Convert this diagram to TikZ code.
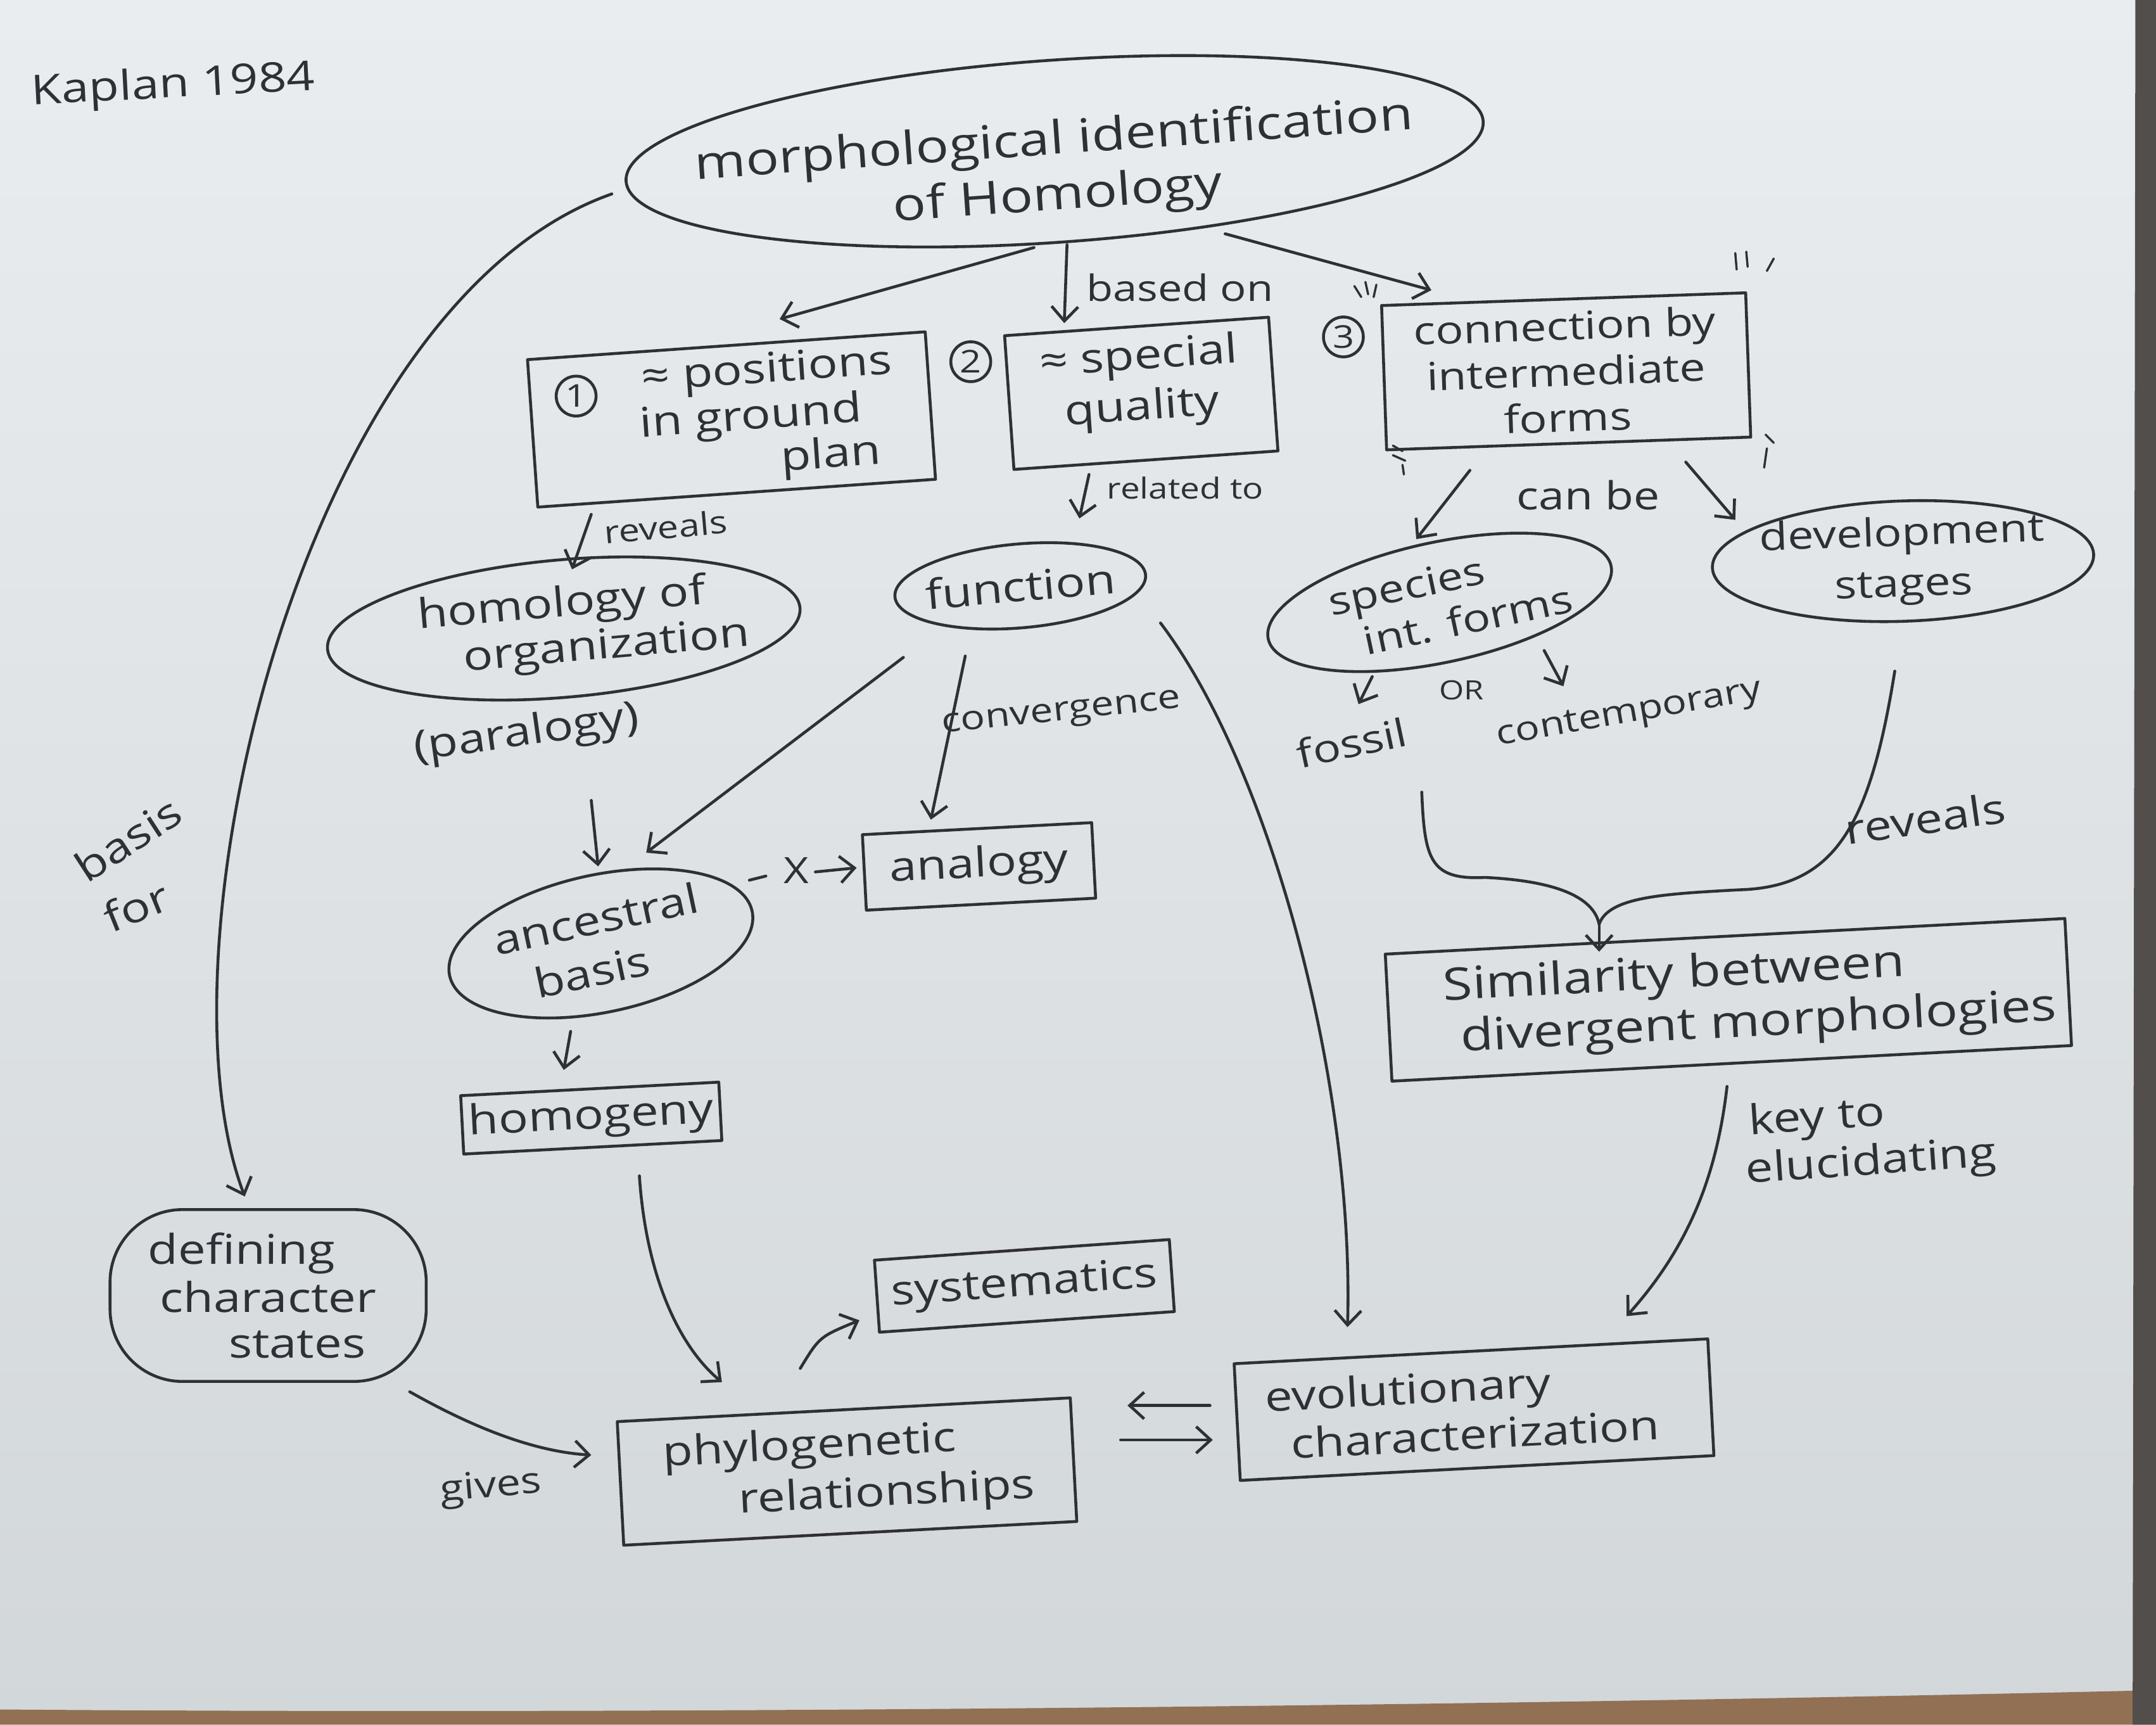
\documentclass[tikz,border=0pt]{standalone}
\usepackage{fontspec}
\setmainfont{Open Sans}[FakeStretch=1.2]
\usetikzlibrary{arrows.meta,shapes.geometric,calc}

\definecolor{ink}{RGB}{46,48,54}
\definecolor{paperT}{RGB}{234,237,239}
\definecolor{paperB}{RGB}{210,215,218}
\definecolor{tablewood}{RGB}{146,112,84}
\definecolor{edgedark}{RGB}{82,78,76}

% font size with a given line distance
\newcommand\sz[1]{\fontsize{#1}{#1}\selectfont\lineskiplimit=-100pt\relax}
% shift one line sideways without changing its width
\newcommand\lnshift[2]{\hspace*{#1}#2\hspace*{-#1}}
% add depth below the last line (moves the text block up)
\newcommand\txtup[1]{\rule[-#1]{0pt}{0pt}}
% add height above the first line (moves the text block down)
\newcommand\txtdown[1]{\rule{0pt}{#1}}

\tikzset{
  pen/.style={draw=ink, line width=1.2pt, line cap=round, line join=round},
  txt/.style={text=ink, inner sep=0pt, align=center},
  box/.style={pen, txt, rectangle, font=\sz{17}},
  % ovals keep the size they are given, whatever the text
  oval/.style={pen, txt, ellipse, inner xsep=-3cm, inner ysep=-1.5cm, font=\sz{17}},
  blob/.style={pen, txt, rectangle, rounded corners=30pt, font=\sz{17}},
  num/.style={pen, txt, circle, minimum size=0.58cm, font=\sz{13}},
  lbl/.style={txt, font=\sz{15}},
  tick/.style={draw=ink, line width=0.9pt, line cap=round},
  arr/.style={pen, -{Straight Barb[length=6pt,width=11pt]}},
}

\begin{document}
\begin{tikzpicture}[x=0.02cm,y=-0.02cm]
\useasboundingbox (0,0) rectangle (1568,1254);

% sheet of paper on the table
\shade[top color=paperT, bottom color=paperB] (0,0) rectangle (1568,1254);
\fill[tablewood] (0,1243) .. controls (500,1247) and (1100,1240) .. (1568,1229)
  -- (1568,1254) -- (0,1254) -- cycle;
\fill[edgedark] (1553,0) -- (1568,0) -- (1568,1254) -- (1551,1254) -- cycle;

% ---------- nodes ----------
\node[lbl, font=\sz{17}, rotate=3] (kap) at (126,63) {Kaplan 1984};

\node[oval, font=\sz{19}, rotate=4, minimum width=12.5cm, minimum height=2.65cm]
  (top) at (767,110) {\txtdown{30pt}morphological identification\\[4pt]of Homology};

\node[box, rotate=4, minimum width=5.8cm, minimum height=2.15cm] (pos) at (532,305)
  {\lnshift{16pt}{≈ positions}\\[2pt]\lnshift{16pt}{in ground}\\[1pt]\lnshift{40pt}{plan}};
\node[num] (n1) at (419,288) {1};

\node[box, rotate=4, minimum width=3.85cm, minimum height=1.95cm] (spq) at (830,286)
  {≈ special\\[4pt]quality\txtup{12pt}};
\node[num] (n2) at (706,263) {2};

\node[box, font=\sz{16}, rotate=2, minimum width=5.3cm, minimum height=2.1cm] (con) at (1139,270)
  {connection by\\[3pt]intermediate\\[3pt]forms};
\node[num] (n3) at (977,245) {3};

\node[lbl, font=\sz{15}] (lbon) at (858,209) {based on};
\node[lbl, font=\sz{12}] (lrel) at (862,355) {related to};
\node[lbl, font=\sz{13}, rotate=5] (lrev) at (484,383) {reveals};

\node[oval, rotate=5, minimum width=6.9cm, minimum height=2.0cm] (homo) at (410,457)
  {homology of\\[2pt]\lnshift{17pt}{organization}};
\node[lbl, font=\sz{17}, rotate=8] (para) at (383,534) {(paralogy)};

\node[oval, rotate=5, minimum width=3.66cm, minimum height=1.22cm] (fun) at (742,426) {function};
\node[lbl, font=\sz{14}, rotate=6] (lconv) at (772,520) {convergence};

\node[oval, rotate=12, minimum width=4.5cm, minimum height=2.0cm] (anc) at (437,686)
  {ancestral\\[4pt]\lnshift{-6pt}{basis}};
\node[lbl, font=\sz{15}] (xm) at (579,633) {X};
\node[box, rotate=3, minimum width=3.34cm, minimum height=1.1cm] (ana) at (712,630) {analogy};

\node[box, rotate=3, minimum width=3.76cm, minimum height=0.85cm] (hmg) at (430,813) {homogeny};

\node[blob, minimum width=4.6cm, minimum height=2.5cm] (def) at (195,942)
  {\lnshift{-11pt}{defining}\\[3pt]character\\[2pt]\lnshift{12pt}{states}};
\node[lbl, font=\sz{17}, rotate=33] (lbas) at (93,610) {basis};
\node[lbl, font=\sz{17}, rotate=22] (lfor) at (99,659) {for};

\node[box, rotate=3, minimum width=6.6cm, minimum height=1.8cm] (phy) at (616,1070)
  {\lnshift{-15pt}{phylogenetic}\\[4pt]\lnshift{16pt}{relationships}};
\node[lbl, font=\sz{15}, rotate=5] (lgiv) at (357,1082) {gives};

\node[box, rotate=4, minimum width=4.3cm, minimum height=1.05cm] (sys) at (745,935) {systematics};

\node[box, rotate=3, minimum width=6.9cm, minimum height=1.7cm] (evo) at (1072,1025)
  {\lnshift{-27pt}{evolutionary}\\[3pt]characterization};

\node[lbl, font=\sz{16}] (lcan) at (1155,360) {can be};
\node[oval, font=\sz{16}, rotate=12, minimum width=5.1cm, minimum height=1.75cm] (spc) at (1047,438)
  {\lnshift{-12pt}{species}\\[3pt]\lnshift{10pt}{int. forms}};
\node[oval, font=\sz{16}, rotate=2, minimum width=5.55cm, minimum height=1.75cm] (dev) at (1384,408)
  {development\\[5pt]stages};

\node[lbl, font=\sz{16}, rotate=12] (fos) at (983,540) {fossil};
\node[lbl, font=\sz{11}] (lor) at (1063,502) {OR};
\node[lbl, font=\sz{14}, rotate=10] (ctp) at (1185,520) {contemporary};
\node[lbl, font=\sz{17}, rotate=8] (lrev2) at (1400,595) {reveals};

\node[box, font=\sz{18.5}, rotate=3, minimum width=9.9cm, minimum height=1.85cm] (sim) at (1257,727)
  {\lnshift{-22pt}{Similarity between}\\[3pt]\lnshift{12pt}{divergent morphologies}};

\node[lbl, font=\sz{17}, rotate=4] (lkey) at (1342,830)
  {\lnshift{-11pt}{key to}\\[3pt]\lnshift{10pt}{elucidating}};

% emphasis strokes round the third criterion
\draw[tick] ($(con)+(-154,-62)$) -- ($(con)+(-149,-54)$);
\draw[tick] ($(con)+(-146,-65)$) -- ($(con)+(-144,-56)$);
\draw[tick] ($(con)+(-138,-63)$) -- ($(con)+(-140,-54)$);
\draw[tick] ($(con)+(123,-86)$) -- ($(con)+(124,-74)$);
\draw[tick] ($(con)+(131,-87)$) -- ($(con)+(132,-76)$);
\draw[tick] ($(con)+(151,-82)$) -- ($(con)+(146,-73)$);
\draw[tick] ($(con)+(-126,54)$) -- ($(con)+(-119,58)$);
\draw[tick] ($(con)+(-126,61)$) -- ($(con)+(-117,65)$);
\draw[tick] ($(con)+(-119,68)$) -- ($(con)+(-118,75)$);
\draw[tick] ($(con)+(145,46)$) -- ($(con)+(151,52)$);
\draw[tick] ($(con)+(146,56)$) -- ($(con)+(144,70)$);

% ---------- connectors ----------
\draw[arr] ($(top)+(-15,70)$) -- ($(pos)+(35,-73)$);
\draw[arr] ($(top)+(9,68)$) -- ($(spq)+(-56,-51)$);
\draw[arr] ($(top)+(124,60)$) -- ($(con)+(-98,-59)$);
\draw[arr] ($(top)+(-322,31)$) .. controls (220,220) and (110,690) .. ($(def)+(-17,-72)$);

\draw[arr] ($(spq)+(-38,59)$) -- ($(fun)+(43,-49)$);
\draw[arr] ($(pos)+(-102,69)$) -- ($(homo)+(6,-43)$);
\draw[arr] ($(para)+(47,48)$) -- ($(anc)+(-2,-56)$);
\draw[arr] ($(fun)+(-85,52)$) -- ($(anc)+(33,-66)$);
\draw[arr] ($(fun)+(-40,51)$) -- ($(ana)+(-35,-34)$);
\draw[arr] ($(fun)+(102,27)$) .. controls ($(fun)+(183,134)$) and ($(evo)+(-87,-235)$) .. ($(evo)+(-92,-60)$);

\draw[pen] ($(anc)+(108,-46)$) -- ($(xm)+(-22,4)$);
\draw[arr] ($(xm)+(14,1)$) -- ($(ana)+(-89,1)$);

\draw[arr] ($(anc)+(-22,64)$) -- ($(hmg)+(-20,-35)$);
\draw[arr] ($(hmg)+(35,42)$) .. controls ($(hmg)+(40,117)$) and ($(phy)+(-121,-90)$) .. ($(phy)+(-91,-65)$);
\draw[arr] ($(def)+(103,70)$) .. controls ($(def)+(135,88)$) and ($(phy)+(-236,-15)$) .. ($(phy)+(-186,-12)$);
\draw[arr] ($(phy)+(-34,-75)$) .. controls ($(phy)+(-20,-98)$) .. ($(sys)+(-120,25)$);
\draw[arr] ($(evo)+(-192,-3)$) -- ($(phy)+(204,-48)$);
\draw[arr] ($(phy)+(199,-23)$) -- ($(evo)+(-190,22)$);

\draw[arr] ($(con)+(-70,72)$) -- ($(spc)+(-17,-46)$);
\draw[arr] ($(con)+(87,66)$) -- ($(dev)+(-122,-30)$);
\draw[arr] ($(spc)+(-49,54)$) -- ($(fos)+(5,-28)$);
\draw[arr] ($(spc)+(76,35)$) -- ($(ctp)+(-48,-21)$);

% both kinds of intermediate forms join into one arrow
\coordinate (join) at ($(sim)+(-94,-55)$);
\draw[pen] ($(fos)+(51,36)$) .. controls (1036,625) and (1040,640) .. (1080,638)
  .. controls (1120,640) and (1158,648) .. (join);
\draw[pen] ($(dev)+(-6,80)$) .. controls (1360,600) and (1335,645) .. (1265,647)
  .. controls (1210,650) and (1170,652) .. (join);
\draw[arr] (join) -- ($(sim)+(-94,-35)$);

\draw[arr] ($(sim)+(-1,63)$) .. controls ($(sim)+(-9,133)$) and ($(evo)+(153,-115)$) .. ($(evo)+(111,-68)$);

\end{tikzpicture}
\end{document}
